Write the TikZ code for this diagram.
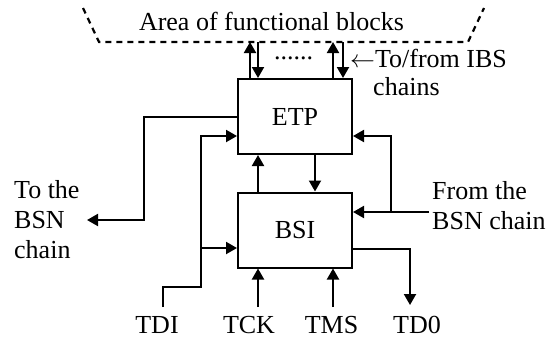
\documentclass[tikz,border=0pt]{standalone}
\usepackage{fontspec}
\setmainfont{Liberation Serif}
\usetikzlibrary{arrows.meta}

\tikzset{
	blk/.style={draw,line width=2pt,minimum width=114pt,minimum height=75pt,inner sep=0pt,font=\fontsize{26}{30}\selectfont},
	lbl/.style={inner sep=0pt,font=\fontsize{26}{30}\selectfont,align=left},
	wire/.style={line width=2pt},
	arr/.style={wire,-{Triangle[length=11pt,width=12pt]}},
	area/.style={line width=2.2pt,dash pattern=on 6pt off 5pt}
}

\begin{document}
\begin{tikzpicture}[x=1pt,y=-1pt]
		\useasboundingbox (0,0) rectangle (556,338);
		\coordinate (a1) at (83,8);
		\coordinate (a2) at (99,42);
		\coordinate (a3) at (468,42);
		\coordinate (a4) at (484,8);
		\coordinate (up1) at (250,42);
		\coordinate (dn1) at (258,42);
		\coordinate (up2) at (333,42);
		\coordinate (dn2) at (343,42);
		\coordinate (tobsn) at (87,220);
		\coordinate (lb) at (144,220);
		\coordinate (tdi) at (163,307);
		\coordinate (tb1) at (201,287);
		\coordinate (tb2) at (201,136);
		\coordinate (tb3) at (201,248);
		\coordinate (tck) at (258,307);
		\coordinate (tms) at (333,307);
		\coordinate (tdo) at (410,305);
		\coordinate (frbsn) at (429,212);
		\coordinate (rb) at (391,212);
		\coordinate (rt) at (391,136);
		\node[blk] (etp) at (295,116.5) {ETP};
		\node[blk] (bsi) at (295,230) {BSI};
		\draw[area] (a1) -- (a2) -- (a3) -- (a4);
		\draw[arr] (etp.north -| up1) -- (up1);
		\draw[arr] (dn1) -- (etp.north -| dn1);
		\draw[arr] (etp.north -| up2) -- (up2);
		\draw[arr] (dn2) -- (etp.north -| dn2);
		\draw[arr] (etp.west) -| (lb) -- (tobsn);
		\draw[arr] (tdi) |- (tb1) -- (tb2) -- (tb2 -| etp.west);
		\draw[arr] (tb3) -- (tb3 -| bsi.west);
		\draw[arr] (tck) -- (tck |- bsi.south);
		\draw[arr] (bsi.north -| tck) -- (etp.south -| tck);
		\draw[arr] ([xshift=20pt]etp.south) -- ([xshift=20pt]bsi.north);
		\draw[arr] (tms) -- (tms |- bsi.south);
		\draw[arr] ([yshift=-19pt]bsi.east) -| (tdo);
		\draw[arr] (frbsn) -- (frbsn -| bsi.east);
		\draw[arr] (rb) -- (rt) -- (rt -| etp.east);
		\node[lbl,anchor=base] (arealbl) at (271.5,30) {Area of functional blocks};
		\node[lbl,anchor=base] (dots) at (293.5,59) {......};
		\node[lbl,anchor=base west] (ibs) at (350,67) {$\leftarrow$To/from IBS};
		\node[lbl,anchor=base west] (chains) at (373,95) {chains};
		\node[lbl,anchor=base west] (tobsnlbl) at (14,258) {To the\\BSN\\chain};
		\node[lbl,anchor=base west] (frbsnlbl) at (432,229) {From the\\BSN chain};
		\node[lbl,anchor=base] (tdilbl) at (157,333) {TDI};
		\node[lbl,anchor=base] (tcklbl) at (249,333) {TCK};
		\node[lbl,anchor=base] (tmslbl) at (331.5,333) {TMS};
		\node[lbl,anchor=base] (tdolbl) at (417,333) {TD0};
	\end{tikzpicture}
\end{document}
